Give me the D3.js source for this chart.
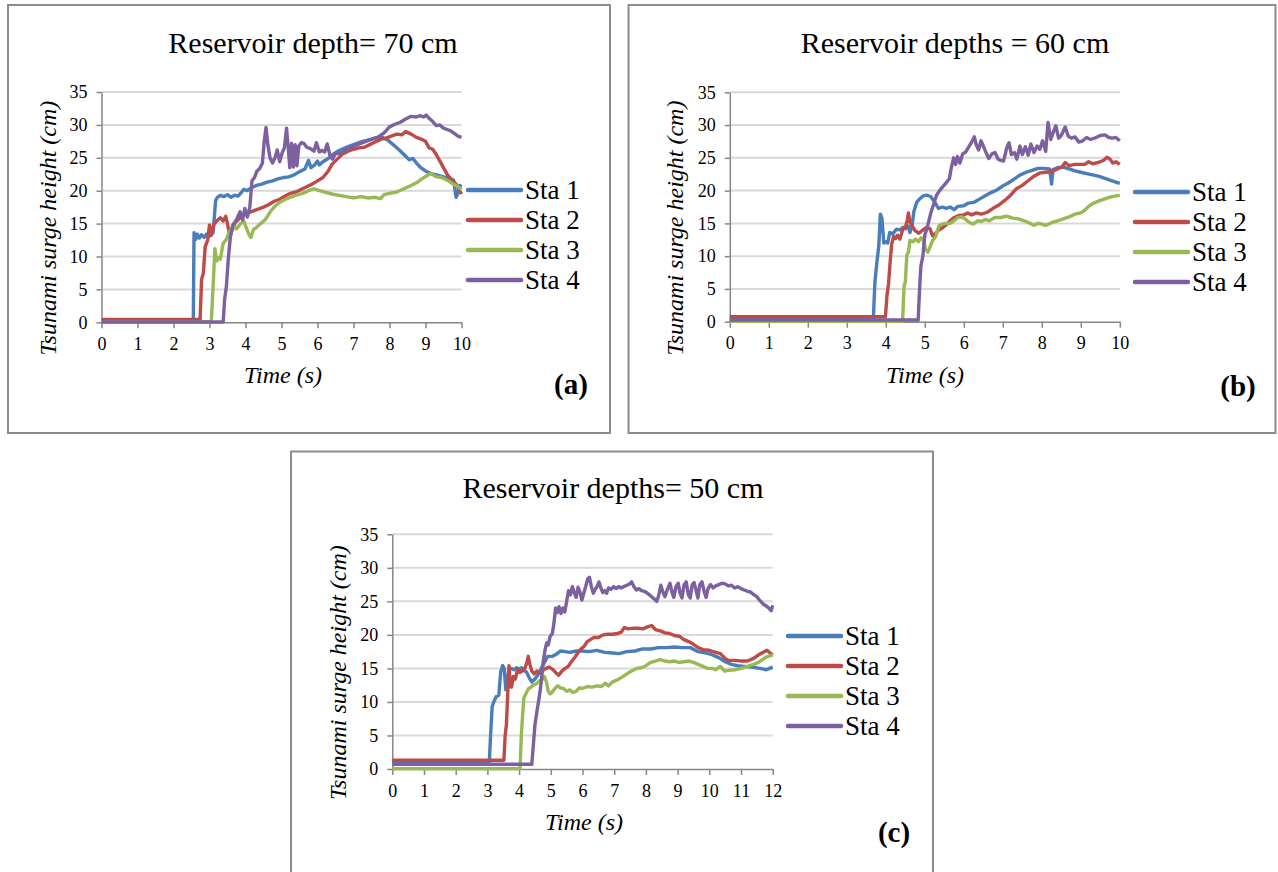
<!DOCTYPE html>
<html>
<head>
<meta charset="utf-8">
<script src="https://cdn.jsdelivr.net/npm/d3@7"></script>
<style>
  body { margin: 0; background: #fff; }
</style>
</head>
<body>
<svg id="fig" width="1278" height="872"></svg>
<script>
const STATIONS = ["Sta 1", "Sta 2", "Sta 3", "Sta 4"];
const COLORS   = ["#4a7ebb", "#be4b48", "#98b954", "#7d60a0"];

const yTicks   = [0, 5, 10, 15, 20, 25, 30, 35];
const xTicks10 = [0, 1, 2, 3, 4, 5, 6, 7, 8, 9, 10];
const xTicks12 = [0, 1, 2, 3, 4, 5, 6, 7, 8, 9, 10, 11, 12];

// (a) reservoir depth 70 cm  -- [time s, height cm]
const a70Sta1 = [[0,0.3],[2.55,0.3],[2.57,13.6],[2.62,12.6],[2.66,13.4],[2.72,12.8],[2.78,13.3],[2.85,12.9],[2.92,13.4],[3.0,13.1],[3.1,13.6],[3.17,18.5],[3.22,19.0],[3.3,19.3],[3.4,19.1],[3.5,19.4],[3.6,19.0],[3.7,19.3],[3.8,19.2],[3.88,19.7],[3.95,20.2],[4.05,20.0],[4.15,20.4],[4.3,20.8],[4.45,21.0],[4.6,21.3],[4.75,21.5],[4.9,21.8],[5.05,22.0],[5.2,22.1],[5.35,22.4],[5.5,22.9],[5.65,23.3],[5.75,24.6],[5.82,23.5],[5.9,23.8],[6.0,24.5],[6.05,23.9],[6.15,24.4],[6.3,24.9],[6.45,25.6],[6.6,26.1],[6.8,26.6],[7.0,27.0],[7.2,27.4],[7.4,27.7],[7.6,28.0],[7.8,28.1],[7.95,27.7],[8.1,27.0],[8.25,26.3],[8.4,25.5],[8.55,24.7],[8.65,24.9],[8.75,24.2],[8.85,23.6],[9.0,23.0],[9.15,22.6],[9.3,22.4],[9.5,22.1],[9.65,21.9],[9.78,21.6],[9.85,19.0],[9.9,19.6],[9.95,20.8],[10.0,20.6]];
const a70Sta2 = [[0,0.45],[2.74,0.45],[2.78,6.5],[2.83,7.5],[2.88,11.5],[2.95,12.5],[3.0,14.8],[3.05,13.2],[3.12,14.9],[3.2,15.4],[3.3,15.9],[3.38,15.4],[3.45,16.1],[3.5,15.0],[3.57,12.9],[3.63,14.2],[3.72,15.2],[3.8,15.6],[3.9,16.2],[4.05,16.6],[4.2,16.9],[4.35,17.2],[4.5,17.5],[4.65,17.9],[4.8,18.4],[4.95,18.7],[5.1,19.2],[5.25,19.6],[5.4,19.8],[5.55,20.2],[5.7,20.6],[5.85,21.0],[6.0,21.5],[6.15,22.0],[6.3,23.0],[6.4,24.0],[6.55,24.8],[6.7,25.6],[6.85,26.0],[7.0,26.3],[7.15,26.5],[7.3,26.6],[7.45,27.0],[7.6,27.4],[7.75,27.8],[7.9,28.0],[8.05,28.3],[8.2,28.6],[8.35,28.5],[8.45,29.0],[8.6,28.6],[8.75,28.1],[8.9,27.8],[9.0,27.5],[9.1,26.5],[9.2,26.3],[9.3,25.5],[9.4,24.5],[9.5,23.5],[9.6,22.5],[9.7,21.8],[9.85,21.0],[10.0,19.5]];
const a70Sta3 = [[0,0.05],[3.05,0.05],[3.1,5.5],[3.15,11.2],[3.2,9.3],[3.25,9.8],[3.3,9.6],[3.38,12.0],[3.47,12.6],[3.55,13.8],[3.65,14.5],[3.75,14.2],[3.85,14.9],[3.95,15.4],[4.02,14.4],[4.1,13.3],[4.15,12.9],[4.22,14.1],[4.3,14.4],[4.4,14.9],[4.55,15.6],[4.7,16.9],[4.85,17.8],[5.0,18.4],[5.15,18.8],[5.3,19.1],[5.45,19.4],[5.6,19.6],[5.75,20.0],[5.9,20.3],[6.05,20.0],[6.2,19.8],[6.4,19.5],[6.6,19.3],[6.8,19.1],[7.0,18.9],[7.2,19.1],[7.4,18.9],[7.6,19.0],[7.75,18.8],[7.85,19.4],[8.0,19.6],[8.2,19.8],[8.4,20.3],[8.6,20.8],[8.75,21.2],[8.9,21.8],[9.05,22.3],[9.15,22.6],[9.3,22.1],[9.45,22.0],[9.6,21.6],[9.75,21.1],[9.9,20.6],[10.0,20.2]];
const a70Sta4 = [[0,0.05],[3.38,0.05],[3.42,3.5],[3.47,5.5],[3.52,9.5],[3.58,13.0],[3.65,14.8],[3.75,15.6],[3.85,16.8],[3.92,15.6],[3.98,17.3],[4.05,16.0],[4.12,17.5],[4.18,21.5],[4.25,22.0],[4.32,23.0],[4.4,23.4],[4.47,24.2],[4.52,27.5],[4.57,29.6],[4.62,27.0],[4.68,25.0],[4.75,24.2],[4.82,25.0],[4.88,26.2],[4.95,24.4],[5.02,25.8],[5.08,26.5],[5.14,29.5],[5.18,27.0],[5.23,23.5],[5.28,27.2],[5.33,23.6],[5.38,27.0],[5.43,23.8],[5.48,26.8],[5.55,27.3],[5.62,27.2],[5.7,26.6],[5.8,26.4],[5.9,26.0],[5.97,27.3],[6.05,25.9],[6.12,26.1],[6.2,25.9],[6.27,27.1],[6.35,25.3],[6.42,24.8],[6.5,25.7],[6.6,25.6],[6.75,26.1],[6.9,26.5],[7.05,26.9],[7.2,27.2],[7.4,27.6],[7.55,27.9],[7.7,28.2],[7.85,28.8],[8.0,29.7],[8.15,30.1],[8.3,30.4],[8.45,30.9],[8.6,31.3],[8.75,31.2],[8.85,31.4],[8.95,31.2],[9.02,31.5],[9.1,31.0],[9.2,30.5],[9.3,29.9],[9.4,30.0],[9.5,29.5],[9.6,29.3],[9.7,29.1],[9.8,28.7],[9.9,28.3],[10.0,28.1]];

// (b) reservoir depth 60 cm
const b60Sta1 = [[0,0.4],[3.68,0.4],[3.72,6.0],[3.77,9.0],[3.82,11.5],[3.86,16.4],[3.9,15.8],[3.95,12.0],[4.0,12.2],[4.05,12.0],[4.1,13.6],[4.18,13.4],[4.27,14.1],[4.36,14.0],[4.44,14.4],[4.52,14.2],[4.58,14.6],[4.62,13.6],[4.67,14.5],[4.72,16.8],[4.79,18.2],[4.88,18.8],[4.96,19.2],[5.05,19.3],[5.15,19.1],[5.25,18.3],[5.35,17.3],[5.45,17.5],[5.55,17.3],[5.65,17.5],[5.75,17.1],[5.85,17.6],[6.0,17.7],[6.12,18.1],[6.25,18.2],[6.4,18.7],[6.55,19.2],[6.7,19.7],[6.85,20.1],[7.0,20.7],[7.15,21.2],[7.3,21.8],[7.45,22.4],[7.6,22.8],[7.75,23.1],[7.9,23.4],[8.05,23.4],[8.2,23.3],[8.25,21.0],[8.29,23.2],[8.4,23.5],[8.55,23.6],[8.7,23.3],[8.85,23.0],[9.0,22.8],[9.15,22.6],[9.3,22.4],[9.45,22.2],[9.6,21.9],[9.75,21.6],[9.9,21.3],[10.0,21.1]];
const b60Sta2 = [[0,0.75],[3.99,0.75],[4.03,4.0],[4.07,5.8],[4.11,9.0],[4.15,11.8],[4.2,13.0],[4.25,12.7],[4.3,13.2],[4.36,12.6],[4.43,14.0],[4.5,14.3],[4.55,15.5],[4.58,16.6],[4.62,15.2],[4.68,14.6],[4.75,13.9],[4.85,13.5],[4.95,14.0],[5.05,14.4],[5.13,14.2],[5.2,13.1],[5.28,13.5],[5.36,14.0],[5.45,14.3],[5.55,14.8],[5.65,15.4],[5.75,15.9],[5.87,16.2],[6.0,16.3],[6.1,16.6],[6.2,16.3],[6.32,16.6],[6.45,16.4],[6.6,16.7],[6.75,17.3],[6.9,17.8],[7.05,18.5],[7.2,19.3],[7.35,20.3],[7.5,20.8],[7.65,21.5],[7.8,22.2],[7.95,22.7],[8.1,22.8],[8.25,22.9],[8.4,23.3],[8.52,23.6],[8.6,24.3],[8.7,23.8],[8.85,24.0],[9.0,24.0],[9.1,24.0],[9.2,24.4],[9.3,24.1],[9.45,24.3],[9.58,24.6],[9.67,25.1],[9.75,24.8],[9.82,24.2],[9.9,24.4],[10.0,24.0]];
const b60Sta3 = [[0,0.05],[4.43,0.05],[4.47,5.5],[4.5,6.0],[4.54,10.2],[4.58,10.6],[4.62,12.4],[4.7,12.2],[4.76,12.6],[4.84,12.2],[4.9,12.8],[4.96,12.6],[5.02,11.0],[5.08,10.6],[5.14,11.5],[5.2,12.4],[5.28,13.0],[5.36,14.6],[5.45,14.9],[5.55,15.0],[5.65,15.0],[5.75,15.4],[5.85,15.9],[5.95,16.0],[6.05,15.6],[6.15,15.1],[6.25,14.9],[6.35,15.4],[6.45,15.3],[6.55,15.6],[6.65,15.4],[6.8,15.9],[6.95,15.9],[7.1,16.1],[7.25,15.8],[7.4,15.7],[7.55,15.4],[7.7,15.0],[7.8,14.7],[7.9,15.0],[8.0,14.9],[8.1,14.7],[8.25,15.1],[8.4,15.4],[8.55,15.7],[8.7,16.0],[8.85,16.4],[9.0,16.6],[9.1,17.0],[9.2,17.6],[9.3,18.0],[9.45,18.4],[9.6,18.7],[9.75,19.0],[9.9,19.2],[10.0,19.3]];
const b60Sta4 = [[0,0.25],[4.83,0.25],[4.87,5.5],[4.9,8.5],[4.95,10.0],[5.0,13.2],[5.08,14.8],[5.15,16.5],[5.22,17.8],[5.3,19.3],[5.38,20.0],[5.46,20.6],[5.55,21.2],[5.63,21.8],[5.68,23.5],[5.74,25.0],[5.79,24.0],[5.84,25.2],[5.9,24.2],[5.97,25.6],[6.05,25.9],[6.12,26.6],[6.2,27.4],[6.27,28.2],[6.32,27.0],[6.38,26.2],[6.44,27.6],[6.5,26.8],[6.57,25.8],[6.64,24.9],[6.72,25.6],[6.8,25.8],[6.88,24.8],[6.95,24.6],[7.02,24.5],[7.1,26.5],[7.16,27.3],[7.22,25.5],[7.3,25.8],[7.36,24.8],[7.44,26.8],[7.5,25.5],[7.58,26.7],[7.65,25.4],[7.72,27.1],[7.8,25.8],[7.88,26.8],[7.95,26.3],[8.02,27.6],[8.1,26.0],[8.16,30.4],[8.23,27.8],[8.3,29.0],[8.36,29.9],[8.43,28.0],[8.5,28.4],[8.6,29.7],[8.68,28.3],[8.76,28.0],[8.85,28.2],[8.95,27.4],[9.05,27.6],[9.15,28.1],[9.25,27.8],[9.35,28.0],[9.5,28.4],[9.62,28.5],[9.72,28.1],[9.8,28.0],[9.9,28.1],[10.0,27.6]];

// (c) reservoir depth 50 cm
const c50Sta1 = [[0,1.0],[3.06,1.0],[3.1,5.0],[3.15,9.3],[3.2,10.0],[3.28,10.8],[3.36,11.0],[3.42,14.5],[3.48,15.4],[3.53,15.0],[3.58,11.8],[3.63,13.2],[3.68,14.8],[3.76,15.0],[3.84,14.8],[3.92,15.1],[4.0,14.9],[4.08,15.1],[4.16,14.7],[4.24,14.4],[4.32,13.6],[4.4,13.0],[4.5,13.4],[4.6,14.1],[4.7,15.0],[4.8,15.9],[4.9,16.8],[5.05,16.8],[5.2,17.2],[5.3,17.6],[5.45,17.5],[5.6,17.4],[5.8,17.6],[6.0,17.6],[6.2,17.5],[6.45,17.7],[6.7,17.4],[6.95,17.3],[7.15,17.2],[7.4,17.5],[7.65,17.6],[7.9,17.9],[8.15,17.9],[8.4,18.1],[8.65,18.1],[8.9,18.2],[9.15,18.1],[9.4,18.1],[9.65,17.5],[9.9,17.3],[10.1,17.0],[10.3,16.6],[10.5,16.0],[10.7,15.6],[10.9,15.4],[11.1,15.3],[11.35,15.2],[11.6,15.0],[11.8,14.8],[11.9,15.0],[12.0,15.2]];
const c50Sta2 = [[0,1.3],[3.52,1.3],[3.56,5.0],[3.6,6.6],[3.64,11.0],[3.68,15.4],[3.72,13.0],[3.76,12.2],[3.82,13.8],[3.88,13.4],[3.95,14.8],[4.02,14.4],[4.1,14.6],[4.18,15.0],[4.24,15.8],[4.29,16.8],[4.34,15.6],[4.4,14.6],[4.48,14.2],[4.56,14.6],[4.66,14.3],[4.75,14.7],[4.85,15.0],[4.95,15.2],[5.05,14.9],[5.15,14.4],[5.25,14.0],[5.35,14.6],[5.45,15.0],[5.55,15.3],[5.65,16.0],[5.75,16.6],[5.85,17.3],[5.95,17.9],[6.05,18.3],[6.15,19.0],[6.25,19.3],[6.35,19.6],[6.5,19.6],[6.65,20.0],[6.8,20.1],[6.95,20.1],[7.1,20.2],[7.22,20.4],[7.32,21.1],[7.45,20.9],[7.6,21.0],[7.75,21.0],[7.9,20.9],[8.05,21.2],[8.18,21.4],[8.3,20.8],[8.45,20.6],[8.6,20.3],[8.75,20.2],[8.9,19.9],[9.05,19.8],[9.2,19.3],[9.35,19.0],[9.5,18.6],[9.65,18.1],[9.8,17.8],[10.0,17.7],[10.2,17.4],[10.35,17.2],[10.5,16.5],[10.6,16.2],[10.8,16.2],[11.0,16.1],[11.2,16.1],[11.4,16.5],[11.55,17.0],[11.7,17.4],[11.82,17.7],[11.92,17.3],[12.0,17.0]];
const c50Sta3 = [[0,0.05],[4.03,0.05],[4.07,5.0],[4.11,8.0],[4.15,10.6],[4.22,11.3],[4.3,12.0],[4.38,12.2],[4.46,12.6],[4.55,12.7],[4.63,13.1],[4.72,13.3],[4.8,13.8],[4.86,13.0],[4.92,11.6],[4.98,11.2],[5.05,11.5],[5.13,12.0],[5.22,12.4],[5.3,12.1],[5.4,12.0],[5.5,11.6],[5.6,11.8],[5.7,11.4],[5.8,11.6],[5.9,12.1],[6.0,12.0],[6.15,12.3],[6.3,12.2],[6.45,12.4],[6.6,12.3],[6.72,12.8],[6.82,12.4],[6.95,13.0],[7.1,13.3],[7.25,13.7],[7.4,14.2],[7.55,14.6],[7.7,15.0],[7.85,15.1],[8.0,15.4],[8.15,15.9],[8.3,16.1],[8.45,16.3],[8.6,16.1],[8.75,16.0],[8.9,16.1],[9.05,15.9],[9.2,16.0],[9.35,16.1],[9.5,15.9],[9.65,15.6],[9.8,15.3],[9.95,15.0],[10.1,15.0],[10.2,14.8],[10.35,15.3],[10.48,14.6],[10.6,14.7],[10.8,14.8],[11.0,15.0],[11.2,15.3],[11.4,15.6],[11.55,15.9],[11.7,16.4],[11.85,16.8],[12.0,17.0]];
const c50Sta4 = [[0,0.7],[4.4,0.7],[4.45,3.6],[4.5,6.6],[4.56,8.5],[4.61,10.0],[4.66,11.5],[4.71,13.5],[4.76,16.0],[4.82,17.8],[4.87,18.8],[4.92,18.5],[4.98,19.8],[5.05,20.2],[5.1,21.8],[5.15,24.0],[5.2,23.3],[5.26,24.2],[5.32,23.2],[5.38,24.0],[5.44,23.4],[5.5,25.0],[5.56,26.6],[5.62,26.0],[5.68,27.2],[5.74,26.3],[5.8,25.6],[5.86,27.1],[5.92,26.4],[5.98,25.2],[6.04,26.2],[6.1,27.2],[6.16,28.3],[6.22,28.6],[6.28,27.2],[6.34,26.2],[6.4,26.8],[6.46,27.2],[6.52,27.9],[6.58,27.0],[6.64,26.3],[6.7,26.6],[6.76,26.2],[6.82,27.0],[6.9,26.8],[6.98,27.2],[7.06,26.9],[7.14,27.2],[7.22,27.0],[7.3,27.2],[7.4,27.4],[7.48,27.6],[7.55,27.9],[7.62,27.2],[7.7,26.7],[7.78,26.9],[7.86,26.6],[7.95,26.5],[8.05,26.2],[8.13,25.9],[8.2,25.6],[8.28,25.3],[8.34,25.0],[8.4,25.8],[8.47,27.4],[8.53,26.5],[8.6,25.7],[8.68,26.8],[8.76,27.7],[8.82,26.4],[8.88,25.6],[8.95,27.2],[9.02,27.7],[9.08,26.2],[9.14,25.5],[9.2,27.4],[9.27,27.9],[9.34,26.0],[9.4,25.5],[9.46,27.5],[9.52,27.8],[9.58,26.7],[9.64,25.5],[9.7,27.5],[9.77,27.9],[9.84,26.4],[9.9,25.6],[9.96,26.9],[10.04,27.5],[10.12,27.0],[10.2,27.3],[10.3,27.5],[10.4,27.7],[10.5,27.6],[10.6,27.3],[10.7,27.4],[10.8,27.0],[10.9,27.2],[11.0,26.9],[11.1,26.7],[11.2,26.5],[11.3,26.4],[11.4,26.0],[11.5,25.7],[11.6,25.1],[11.7,24.6],[11.8,24.3],[11.88,24.0],[11.95,23.6],[12.0,24.4]];

const SERIF = `"Liberation Serif"`;
const svg = d3.select("#fig");

const panels = [
  { frame: [8, 5, 602, 428], plot: [101.5, 461.5, 322.3, 92],
    xMax: 10, xTicks: xTicks10, series: [a70Sta1, a70Sta2, a70Sta3, a70Sta4],
    title: "Reservoir depth= 70 cm", titleX: 313, titleY: 53,
    yTitleX: 48, xTitle: "Time (s)", xTitleX: 283, label: "(a)", labelX: 571, labelY: 394,
    legX: 468, legY: 190 },
  { frame: [628.5, 5, 647, 428], plot: [729.8, 1119.8, 321.7, 92.3],
    xMax: 10, xTicks: xTicks10, series: [b60Sta1, b60Sta2, b60Sta3, b60Sta4],
    title: "Reservoir depths = 60 cm", titleX: 955, titleY: 53,
    yTitleX: 675, xTitle: "Time (s)", xTitleX: 925, label: "(b)", labelX: 1238, labelY: 396,
    legX: 1135, legY: 192 },
  { frame: [291, 451.5, 642, 430], plot: [392.3, 772.7, 769, 534.3],
    xMax: 12, xTicks: xTicks12, series: [c50Sta1, c50Sta2, c50Sta3, c50Sta4],
    title: "Reservoir depths= 50 cm", titleX: 613, titleY: 498,
    yTitleX: 338, xTitle: "Time  (s)", xTitleX: 584, label: "(c)", labelX: 894, labelY: 842,
    legX: 788, legY: 636 }
];

panels.forEach(drawPanel);

function drawPanel(p) {
  const g = svg.append("g");
  const [px0, px1, py0, py1] = p.plot;

  g.append("rect")
   .attr("x", p.frame[0]).attr("y", p.frame[1])
   .attr("width", p.frame[2]).attr("height", p.frame[3])
   .attr("fill", "none")
   .attr("stroke", "#8c8c8c")
   .attr("stroke-width", 2);

  const x = d3.scaleLinear().domain([0, p.xMax]).range([px0, px1]);
  const y = d3.scaleLinear().domain([0, 35]).range([py0, py1]);

  // horizontal gridlines
  g.append("g")
   .selectAll("line")
   .data(yTicks.slice(1))
   .join("line")
     .attr("x1", px0).attr("x2", px1)
     .attr("y1", d => y(d)).attr("y2", d => y(d))
     .attr("stroke", "#d9d9d9")
     .attr("stroke-width", 2);

  const yAxis = g.append("g")
    .attr("transform", `translate(${px0},0)`)
    .call(d3.axisLeft(y).tickValues(yTicks).tickSize(5).tickSizeOuter(0).tickPadding(9));

  const xAxis = g.append("g")
    .attr("transform", `translate(0,${py0})`)
    .call(d3.axisBottom(x).tickValues(p.xTicks).tickSize(6).tickSizeOuter(0).tickPadding(9));

  [yAxis, xAxis].forEach(ax => {
    ax.attr("font-family", null).attr("font-size", null);
    ax.selectAll("path, line").attr("stroke", "#868686").attr("stroke-width", 1.5);
    ax.selectAll("text").attr("fill", "#000").style("font-family", SERIF).style("font-size", "18px");
  });

  const line = d3.line().x(d => x(d[0])).y(d => y(d[1]));

  p.series.forEach((s, i) => {
    g.append("path")
     .datum(s)
     .attr("d", line)
     .attr("fill", "none")
     .attr("stroke", COLORS[i])
     .attr("stroke-width", 3.4)
     .attr("stroke-linejoin", "round");
  });

  // titles
  g.append("text")
   .attr("x", p.titleX).attr("y", p.titleY)
   .attr("text-anchor", "middle")
   .style("font-family", SERIF)
   .style("font-size", "30px")
   .text(p.title);

  g.append("text")
   .attr("transform", `translate(${p.yTitleX},${(py0 + py1) / 2 + 21}) rotate(-90)`)
   .attr("text-anchor", "middle")
   .attr("dy", "0.35em")
   .style("font-family", SERIF)
   .style("font-size", "24px")
   .style("font-style", "italic")
   .text("Tsunami surge height (cm)");

  g.append("text")
   .attr("x", p.xTitleX).attr("y", py0 + 61)
   .attr("text-anchor", "middle")
   .style("font-family", SERIF)
   .style("font-size", "24px")
   .style("font-style", "italic")
   .text(p.xTitle);

  g.append("text")
   .attr("x", p.labelX).attr("y", p.labelY)
   .attr("text-anchor", "middle")
   .style("font-family", SERIF)
   .style("font-size", "29px")
   .style("font-weight", "bold")
   .text(p.label);

  // legend
  const leg = g.append("g")
    .selectAll("g")
    .data(STATIONS)
    .join("g")
      .attr("transform", (d, i) => `translate(${p.legX},${p.legY + i * 30})`);

  leg.append("line")
     .attr("x1", 0).attr("x2", 53)
     .attr("stroke", (d, i) => COLORS[i])
     .attr("stroke-width", 4.5)
     .attr("stroke-linecap", "round");

  leg.append("text")
     .attr("x", 57)
     .attr("dy", "0.35em")
     .style("font-family", SERIF)
     .style("font-size", "27px")
     .text(d => d);
}
</script>
</body>
</html>
